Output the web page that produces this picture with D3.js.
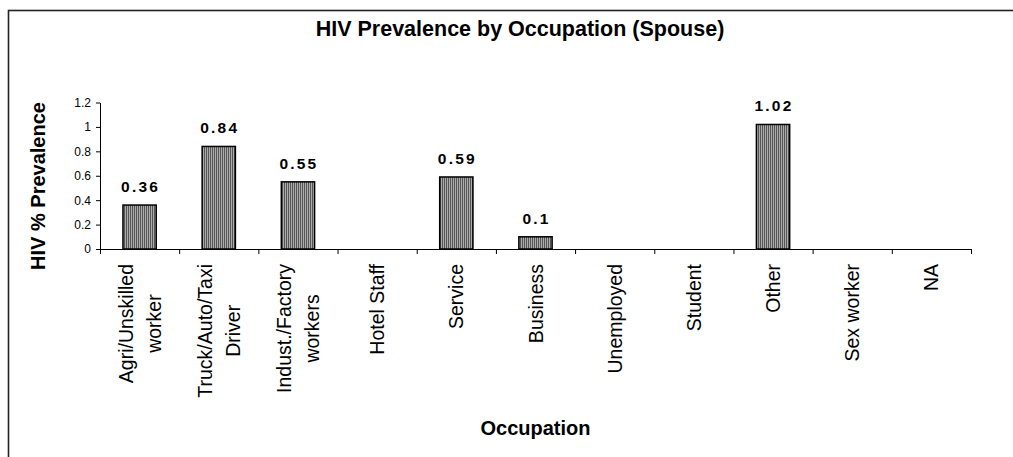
<!DOCTYPE html>
<html>
<head>
<meta charset="utf-8">
<script src="https://cdn.jsdelivr.net/npm/d3@7"></script>
<style>
  body { margin: 0; background: #fff; }
  svg { display: block; font-family: "Liberation Sans", Arial, sans-serif; }
</style>
</head>
<body>
<div id="chart"></div>
<script>
// chart data
var occupations = [
    ["Agri/Unskilled", "worker"],
    ["Truck/Auto/Taxi", "Driver"],
    ["Indust./Factory", "workers"],
    ["Hotel Staff"],
    ["Service"],
    ["Business"],
    ["Unemployed"],
    ["Student"],
    ["Other"],
    ["Sex worker"],
    ["NA"]
];
var prevalence = [0.36, 0.84, 0.55, null, 0.59, 0.1, null, null, 1.02, null, null];
var yTicks = [0, 0.2, 0.4, 0.6, 0.8, 1, 1.2];

var width = 1013, height = 457;
// plot area (note: "top" is taken by window.top)
var plotLeft = 100, plotRight = 971, plotTop = 102.5, plotBottom = 249;

var svg = d3.select("#chart")
    .append("svg")
    .attr("width", width)
    .attr("height", height);

// stripe fill for the bars
var pat = svg.append("defs").append("pattern")
    .attr("id", "stripes")
    .attr("patternUnits", "userSpaceOnUse")
    .attr("width", 2)
    .attr("height", 4);
pat.append("rect").attr("width", 2).attr("height", 4).attr("fill", "#acacac");
pat.append("rect").attr("width", 1).attr("height", 4).attr("fill", "#555");

// outer frame (runs off the right and bottom like the original)
svg.append("rect")
    .attr("x", 8.5)
    .attr("y", 10.5)
    .attr("width", 1100)
    .attr("height", 600)
    .attr("fill", "none")
    .attr("stroke", "#222")
    .attr("stroke-width", 1.6);

var keys = d3.range(occupations.length);

var x = d3.scaleBand()
    .domain(keys)
    .range([plotLeft, plotRight])
    .paddingInner(0.58)
    .paddingOuter(0.29);

// boundaries between categories, for the tick marks
var xEdge = d3.scaleLinear()
    .domain([0, occupations.length])
    .range([plotLeft, plotRight]);

var y = d3.scaleLinear()
    .domain([0, 1.2])
    .range([plotBottom, plotTop]);

// y axis
var yAxis = svg.append("g")
    .attr("transform", "translate(" + plotLeft + ",0)")
    .call(d3.axisLeft(y)
        .tickValues(yTicks)
        .tickFormat(function(d) { return String(d); })
        .tickSize(4)
        .tickSizeOuter(0)
        .tickPadding(5));
yAxis.attr("font-size", 12).attr("font-family", "'Liberation Sans', Arial, sans-serif");
yAxis.selectAll("text").attr("fill", "#000");
yAxis.selectAll("line, path").attr("stroke", "#000");

// x axis with ticks on category edges
var xAxis = svg.append("g")
    .attr("transform", "translate(0," + plotBottom + ")")
    .call(d3.axisBottom(xEdge)
        .tickValues(d3.range(occupations.length + 1))
        .tickFormat("")
        .tickSize(5)
        .tickSizeOuter(0));
xAxis.selectAll("line, path").attr("stroke", "#000");

// bars
var withValue = keys.filter(function(i) { return prevalence[i] != null; });

svg.selectAll(".bar")
    .data(withValue)
    .enter()
    .append("rect")
    .attr("class", "bar")
    .attr("x", function(i) { return x(i); })
    .attr("y", function(i) { return y(prevalence[i]); })
    .attr("width", x.bandwidth())
    .attr("height", function(i) { return y(0) - y(prevalence[i]); })
    .attr("fill", "url(#stripes)")
    .attr("stroke", "#000")
    .attr("stroke-width", 1.5);

// value labels
svg.selectAll(".val")
    .data(withValue)
    .enter()
    .append("text")
    .attr("class", "val")
    .attr("x", function(i) { return x(i) + x.bandwidth() / 2 + 1; })
    .attr("y", function(i) { return y(prevalence[i]) - 13; })
    .attr("text-anchor", "middle")
    .style("font-size", "15.5px")
    .style("font-weight", "bold")
    .style("letter-spacing", "2.2px")
    .text(function(i) { return String(prevalence[i]); });

// rotated category labels, lines centred on each other
var lineGap = 28;
var labelTop = 264;
var cats = svg.selectAll(".cat")
    .data(keys)
    .enter()
    .append("g")
    .attr("class", "cat");

cats.each(function(i) {
    var g = d3.select(this);
    var lines = occupations[i];
    var center = x(i) + x.bandwidth() / 2;
    var texts = lines.map(function(s, k) {
        return g.append("text")
            .attr("text-anchor", "middle")
            .style("font-size", "19.5px")
            .text(s)
            .datum((k - (lines.length - 1) / 2) * lineGap + 7);
    });
    var maxLen = d3.max(texts, function(t) { return t.node().getComputedTextLength(); });
    texts.forEach(function(t) {
        var off = t.datum();
        t.attr("transform", "translate(" + (center + off) + "," + (labelTop + maxLen / 2) + ") rotate(-90)");
    });
});

// titles
svg.append("text")
    .attr("x", 520)
    .attr("y", 36)
    .attr("text-anchor", "middle")
    .style("font-size", "21.5px")
    .style("font-weight", "bold")
    .text("HIV Prevalence by Occupation (Spouse)");

svg.append("text")
    .attr("x", (plotLeft + plotRight) / 2)
    .attr("y", 435)
    .attr("text-anchor", "middle")
    .style("font-size", "20px")
    .style("font-weight", "bold")
    .text("Occupation");

svg.append("text")
    .attr("transform", "translate(45,186) rotate(-90)")
    .attr("text-anchor", "middle")
    .style("font-size", "20px")
    .style("font-weight", "bold")
    .text("HIV % Prevalence");
</script>
</body>
</html>
